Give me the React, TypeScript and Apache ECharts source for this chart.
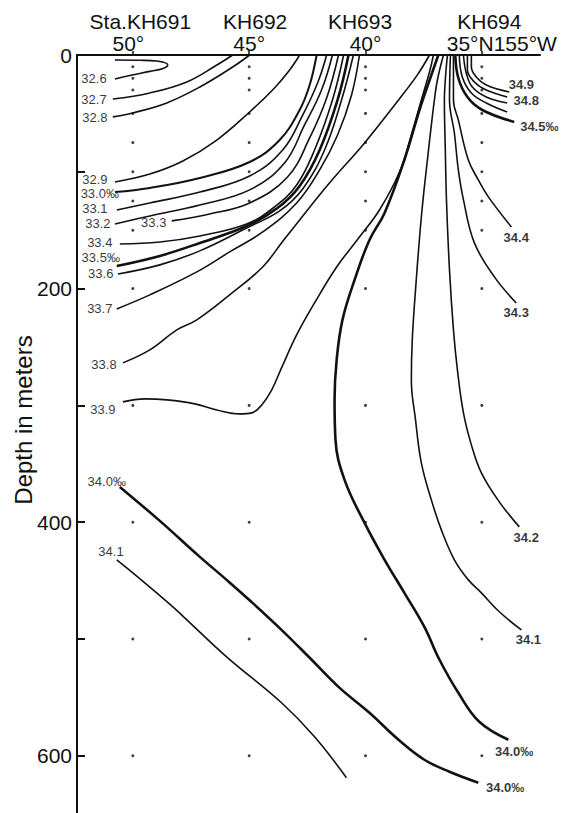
import { useEffect, useRef } from 'react';
import * as echarts from 'echarts';

// Stations (latitude, °N) and labels
const stationLats = [50, 45, 40, 35];
const stationNames = ['Sta.KH691', 'KH692', 'KH693', 'KH694'];
const latLabels = ['50°', '45°', '40°', '35°N155°W'];
const sampleDepths = [10, 20, 30, 50, 75, 100, 125, 150, 200, 300, 400, 500, 600];
const depthLabelValues = [0, 200, 400, 600];
const depthTickValues = [100, 200, 300, 400, 500, 600];

// Isohaline traces: [latitude, depth m]
const s326 = [[50.77, 4.3], [49.7, 4.5], [48.97, 5.2], [48.5, 8.6], [48.7, 11.5], [49.27, 14], [50.13, 17.5], [50.77, 20.5]];
const s327 = [[50.86, 37.7], [49.27, 32.5], [47.68, 23.1], [46.39, 8.6], [45.71, 0]];
const s328 = [[50.86, 53], [50, 49.6], [48.54, 41], [47.12, 27.4], [45.71, 10.3], [44.98, 0]];
const s329 = [[50.77, 108.7], [49.27, 101.9], [47.85, 90.7], [46.39, 72.8], [44.98, 48.8], [43.91, 28.2], [43.26, 12.8], [42.83, 0]];
const s330 = [[50.77, 117.3], [49.27, 113.8], [47.12, 105.3], [44.98, 91.6], [43.69, 72.8], [42.83, 47.1], [42.4, 25.7], [42.1, 0]];
const s331 = [[50.69, 132.7], [49.27, 126.7], [47.12, 117.3], [44.98, 103.6], [43.56, 81.3], [42.7, 51.4], [42.06, 24], [41.67, 0]];
const s332 = [[50.77, 144.7], [49.27, 137.8], [47.12, 128.4], [44.98, 115.5], [43.48, 92.4], [42.62, 59.9], [41.89, 30], [41.42, 0]];
const s333 = [[48.33, 142], [46.7, 136.1], [44.98, 126.7], [43.35, 104.4], [42.4, 71], [41.67, 36.8], [41.16, 0]];
const s334 = [[50.56, 161.8], [48.84, 160.1], [47.12, 154.9], [45.11, 144.7], [43.91, 130.1], [42.96, 111.3], [42.19, 81.3], [41.42, 38.5], [40.94, 0]];
const s335 = [[50.69, 180.6], [48.84, 172], [47.12, 160.9], [45.11, 146.4], [43.78, 131], [42.83, 112.1], [41.97, 81.3], [41.2, 38.5], [40.73, 0]];
const s336 = [[50.64, 187.5], [48.84, 179.7], [47.12, 167.7], [45.11, 148.1], [43.69, 133.5], [42.7, 114.7], [41.76, 81.3], [41.03, 38.5], [40.52, 0]];
const s337 = [[50.69, 217.4], [49.27, 205.4], [47.25, 185.7], [45.84, 168.6], [44.42, 151.5], [42.96, 126.7], [41.97, 98.4], [41.2, 68.5], [40.6, 34.2], [40.26, 0]];
const s338 = [[50.43, 263.6], [49.27, 252.5], [48.11, 235.4], [47.25, 226.8], [45.84, 205.4], [44.42, 181.5], [43.61, 160.9], [42.83, 141.2], [41.55, 109.6], [40.04, 75.3], [38.58, 38.5], [37.77, 17], [37.25, 0]];
const s339 = [[50.43, 297], [49.48, 294.4], [48.54, 295.3], [47.34, 298.7], [46.39, 303.9], [45.41, 307.3], [44.89, 306.4], [44.46, 299.6], [44.03, 286.7], [43.61, 267.9], [42.96, 239.7], [42.19, 212.3], [41.24, 181.5], [40.26, 155.8], [39.4, 132.7], [38.54, 100.2], [38.03, 68.5], [37.6, 38.5], [37.25, 14.6], [37.08, 0]];
const s340a = [[36.87, 0], [37.17, 17.1], [37.68, 47.1], [38.33, 89.9], [39.18, 135.2], [39.83, 158.4], [40.47, 192.6], [40.99, 226.8], [41.24, 261.1], [41.33, 295.3], [41.29, 329.5], [40.9, 363.8], [40.04, 400.6], [39.18, 432.2], [38.33, 460.5], [37.47, 489.6], [36.82, 517.8], [36.01, 546.1], [35.11, 570.9], [33.86, 586.3]];
const s340b = [[50.56, 369.8], [48.84, 398.9], [47.12, 429.7], [45.97, 449.4], [44.76, 470.8], [43.61, 492.2], [42.4, 516.1], [41.16, 541], [39.83, 563.2], [38.58, 586.3], [37.47, 603.4], [36.39, 613.7], [35.15, 623.1]];
const s341a = [[50.69, 432.2], [50, 443.4], [48.28, 472.5], [47.68, 483.6], [45.97, 515.3], [43.61, 554.6], [42.19, 583.7], [40.82, 618.8]];
const s341b = [[36.65, 0], [36.91, 21.4], [37.04, 38.5], [37.34, 89.9], [37.6, 138.7], [37.85, 201.1], [37.99, 243.9], [38.03, 278.2], [37.85, 312.4], [37.6, 349.2], [37.17, 380.9], [36.74, 406.6], [36.18, 432.2], [35.58, 449.4], [35.02, 460.5], [34.25, 476.7], [33.3, 492.2]];
const s342 = [[36.48, 0], [36.57, 21.4], [36.61, 38.5], [36.57, 81.3], [36.52, 124.1], [36.39, 184], [36.22, 235.4], [36.05, 269.6], [35.79, 306.4], [35.45, 333.8], [35.02, 357.8], [34.25, 382.6], [33.39, 404]];
const s343 = [[36.35, 0], [36.39, 38.5], [36.18, 66.8], [36.01, 98.4], [35.79, 124.1], [35.32, 160.9], [34.46, 190], [33.52, 212.3]];
const s344 = [[36.22, 0], [36.22, 38.5], [36.01, 55.6], [35.58, 89.9], [35.15, 107], [34.72, 121.5], [33.73, 147.2]];
const s345 = [[36.14, 0], [36.01, 19.7], [35.62, 36], [34.98, 47.1], [33.61, 57.3]];
const s346 = [[35.97, 0], [35.84, 18.8], [35.45, 32.5], [34.81, 41.1], [33.91, 48.8]];
const s347 = [[35.79, 0], [35.67, 15.4], [35.41, 27.4], [34.81, 35.9], [33.91, 41.1]];
const s348 = [[35.62, 0], [35.62, 12.8], [35.32, 23.1], [34.81, 30], [33.91, 35.9]];
const s349 = [[35.45, 0], [35.45, 10.3], [35.24, 18.8], [34.81, 25.7], [33.82, 31.7]];

const thinPaths = [s326, s327, s328, s329, s331, s332, s333, s334, s336, s337, s338, s339, s341a, s341b, s342, s343, s344, s346, s347, s348, s349];
const mediumPaths = [s330];
const thickPaths = [s335, s340a, s340b, s345];

// Contour labels: text and [latitude, depth] anchor
const leftLabelText = ['32.6', '32.7', '32.8', '32.9', '33.0‰', '33.1', '33.2', '33.3', '33.4', '33.5‰', '33.6', '33.7', '33.8', '33.9', '34.0‰', '34.1'];
const leftLabelPos = [[51.67, 20.5], [51.67, 37.7], [51.63, 53.1], [51.63, 106.5], [51.42, 119.0], [51.63, 131.8], [51.5, 144.2], [49.1, 143.8], [51.42, 160.9], [51.38, 173.8], [51.38, 187.0], [51.42, 217.4], [51.24, 265.3], [51.29, 303.9], [51.12, 365.5], [50.94, 425.4]];
const rightLabelText = ['34.9', '34.8', '34.5‰', '34.4', '34.3', '34.2', '34.1', '34.0‰', '34.0‰'];
const rightLabelPos = [[33.3, 25.2], [33.09, 38.8], [32.53, 61.6], [33.52, 156.6], [33.52, 220.8], [33.09, 413.4], [33.0, 500.7], [33.61, 596.6], [34.0, 627.0]];

const INK = '#111';
const FONT = 'Liberation Sans, Arial, sans-serif';

export default function App() {
  const ref = useRef<HTMLDivElement>(null);
  useEffect(() => {
    if (!ref.current) return;
    const chart = echarts.init(ref.current, undefined, { renderer: 'svg' });
    const latShift = [[0, 9], [0, 0], [0, 0], [40, 0]];
    const staShift = [[15, 0], [12, 0], [0, 11], [15, 0]];
    const richLat: any = {};
    const richSta: any = {};
    stationLats.forEach((_, i) => {
      richLat['l' + i] = { fontSize: 21, fontFamily: FONT, color: INK, padding: [0, latShift[i][1], 0, latShift[i][0]] };
      richSta['s' + i] = { fontSize: 21, fontFamily: FONT, color: INK, padding: [0, staShift[i][1], 0, staShift[i][0]] };
    });
    const dots: number[][] = [];
    stationLats.forEach((lat) => sampleDepths.forEach((d) => dots.push([lat, d])));

    const lineSeries = (p: number[][], w: number) => ({
      type: 'line',
      data: p,
      smooth: 0.4,
      symbol: 'none',
      silent: true,
      lineStyle: { color: INK, width: w },
      z: 3,
    });

    chart.setOption({
      animation: false,
      backgroundColor: '#fff',
      grid: { left: 77, top: 55, right: 24, bottom: 0 },
      xAxis: [
        {
          type: 'value', position: 'top', min: 32.5, max: 52.4, inverse: true,
          axisLine: { show: true, lineStyle: { color: INK, width: 2 } },
          axisTick: { show: true, customValues: stationLats, length: 4, lineStyle: { color: INK, width: 1.5 } },
          axisLabel: {
            customValues: stationLats, margin: 1,
            formatter: (v: number) => { const i = stationLats.indexOf(v); return i < 0 ? '' : `{l${i}|${latLabels[i]}}`; },
            rich: richLat,
          },
          splitLine: { show: false },
        },
        {
          type: 'value', position: 'top', min: 32.5, max: 52.4, inverse: true,
          axisLine: { show: false }, axisTick: { show: false },
          axisLabel: {
            customValues: stationLats, margin: 23,
            formatter: (v: number) => { const i = stationLats.indexOf(v); return i < 0 ? '' : `{s${i}|${stationNames[i]}}`; },
            rich: richSta,
          },
          splitLine: { show: false },
        },
      ],
      yAxis: {
        type: 'value', min: 0, max: 649, inverse: true,
        axisLine: { show: true, lineStyle: { color: INK, width: 2 } },
        axisTick: { show: true, inside: true, customValues: depthTickValues, length: 8, lineStyle: { color: INK, width: 2 } },
        axisLabel: { customValues: depthLabelValues, fontSize: 21, fontFamily: FONT, color: INK, margin: 5 },
        splitLine: { show: false },
      },
      graphic: [
        {
          type: 'text', x: 23, y: 420, rotation: Math.PI / 2,
          style: { text: 'Depth in meters', fontSize: 24, fontFamily: FONT, fill: INK, align: 'center', verticalAlign: 'middle' },
        },
      ],
      series: [
        ...thinPaths.map((p) => lineSeries(p, 1.6)),
        ...mediumPaths.map((p) => lineSeries(p, 2.0)),
        ...thickPaths.map((p) => lineSeries(p, 2.6)),
        {
          type: 'scatter', data: dots, symbolSize: 3, itemStyle: { color: INK }, silent: true, z: 2,
        },
        {
          type: 'scatter', symbolSize: 0, silent: true, z: 5,
          data: leftLabelText.map((t, i) => ({ value: leftLabelPos[i], name: t })),
          label: { show: true, position: 'inside', formatter: '{b}', fontSize: 13, fontFamily: FONT, color: '#000' },
        },
        {
          type: 'scatter', symbolSize: 0, silent: true, z: 5,
          data: rightLabelText.map((t, i) => ({ value: rightLabelPos[i], name: t })),
          label: { show: true, position: 'inside', formatter: '{b}', fontSize: 13, fontWeight: 'bold', fontFamily: FONT, color: '#000' },
        },
      ],
    });
    return () => chart.dispose();
  }, []);
  return <div ref={ref} style={{ position: 'fixed', left: 0, top: 0, width: 564, height: 813, background: '#fff' }} />;
}
